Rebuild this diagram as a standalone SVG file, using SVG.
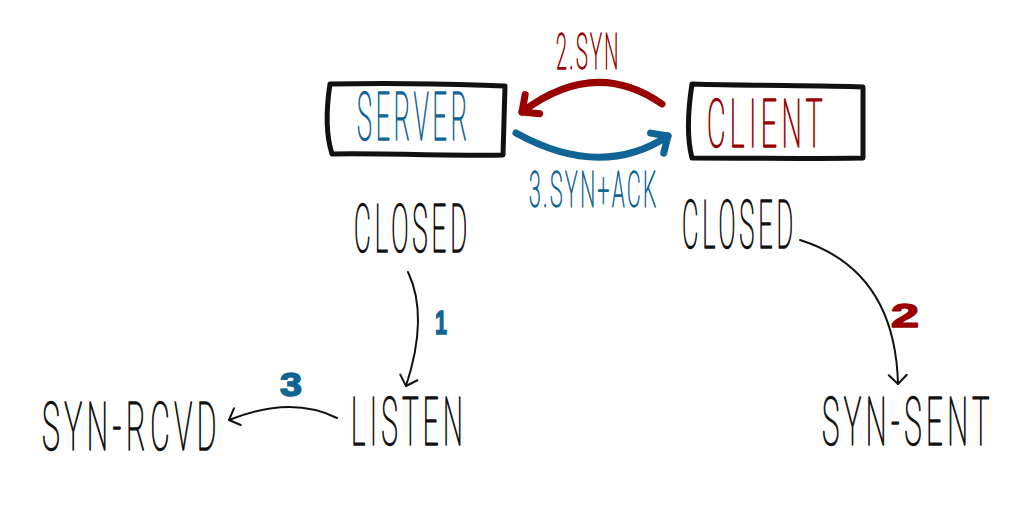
<svg xmlns="http://www.w3.org/2000/svg" width="1036" height="509" viewBox="0 0 1036 509">
<style>
  text { font-family: "Roboto", "Inter", "Liberation Sans", sans-serif; font-weight: 100; stroke-linejoin: round; }
  .state { fill: #111111; stroke: #111111; stroke-width: 1.5; font-size: 66px; letter-spacing: 10px; }
  .lbl { font-size: 50px; stroke-width: 1.3; letter-spacing: 6px; }
  .num { font-family: "Liberation Sans", "Roboto", sans-serif; font-weight: 700; font-size: 34px; stroke-width: 1.5; letter-spacing: 0; }
  .blue { fill: #106496; stroke: #106496; }
  .red { fill: #990000; stroke: #990000; }
  .box { fill: #ffffff; stroke: #111111; stroke-width: 5; stroke-linejoin: round; }
  .thin { fill: none; stroke: #111111; stroke-width: 2; stroke-linecap: round; }
  .thick { fill: none; stroke-width: 7; stroke-linecap: round; }
</style>
<defs>
  <marker id="ahThin" markerUnits="userSpaceOnUse" markerWidth="30" markerHeight="30" viewBox="-15 -15 30 30" refX="0" refY="0" orient="auto">
    <path d="M-9,-9 L0,0 L-9,9" fill="none" stroke="#111111" stroke-width="2" stroke-linecap="round" stroke-linejoin="round"/>
  </marker>
  <marker id="ahRed" markerUnits="userSpaceOnUse" markerWidth="40" markerHeight="40" viewBox="-20 -20 40 40" refX="0" refY="0" orient="auto">
    <path d="M-13,-12 L0,0 L-13,12" fill="none" stroke="#990000" stroke-width="7" stroke-linecap="round" stroke-linejoin="round"/>
  </marker>
  <marker id="ahBlue" markerUnits="userSpaceOnUse" markerWidth="40" markerHeight="40" viewBox="-20 -20 40 40" refX="0" refY="0" orient="auto">
    <path d="M-13,-12 L0,0 L-13,12" fill="none" stroke="#106496" stroke-width="7" stroke-linecap="round" stroke-linejoin="round"/>
  </marker>
</defs>
<rect width="1036" height="509" fill="#ffffff"/>

<g id="connectors">
  <path class="thick" stroke="#990000" d="M662,104 Q595,57 522,112" marker-end="url(#ahRed)"/>
  <path class="thick" stroke="#106496" d="M516,133 Q601,180 668,136" marker-end="url(#ahBlue)"/>
  <path class="thin" d="M408,272 Q429,316 406,386" marker-end="url(#ahThin)"/>
  <path class="thin" d="M337,418 Q291,395 229,420" marker-end="url(#ahThin)"/>
  <path class="thin" d="M800,240 Q895,270 898,384" marker-end="url(#ahThin)"/>
  <text class="lbl red" transform="translate(556,69) scale(0.4,1)" x="0" y="0" textLength="162" lengthAdjust="spacingAndGlyphs">2.SYN</text>
  <text class="lbl blue" transform="translate(529,207) scale(0.4,1)" x="0" y="0" textLength="325" lengthAdjust="spacingAndGlyphs">3.SYN+ACK</text>
  <text class="num blue" x="435" y="334" textLength="12" lengthAdjust="spacingAndGlyphs">1</text>
  <text class="num red" x="891" y="327" textLength="28" lengthAdjust="spacingAndGlyphs">2</text>
  <text class="num blue" x="280" y="396" textLength="22" lengthAdjust="spacingAndGlyphs">3</text>
</g>

<g id="server">
  <path class="box" d="M330,84 C420,82 470,85 505,86 L503,155 C450,156 380,153 332,154 C326,135 326,110 330,84 Z"/>
  <text class="state blue" transform="translate(357,140) scale(0.4,1)" x="0" y="0" textLength="285" lengthAdjust="spacingAndGlyphs">SERVER</text>
</g>
<g id="client">
  <path class="box" d="M692,84 C760,86 820,85 863,87 L863,158 C800,159 740,158 692,158 C686,135 688,110 692,84 Z"/>
  <text class="state red" transform="translate(707,147) scale(0.4,1)" x="0" y="0" textLength="300" lengthAdjust="spacingAndGlyphs">CLIENT</text>
</g>
<g id="server-closed">
  <text class="state" transform="translate(354,252) scale(0.4,1)" x="0" y="0" textLength="292.5" lengthAdjust="spacingAndGlyphs">CLOSED</text>
</g>
<g id="client-closed">
  <text class="state" transform="translate(682,248) scale(0.4,1)" x="0" y="0" textLength="287.5" lengthAdjust="spacingAndGlyphs">CLOSED</text>
</g>
<g id="listen">
  <text class="state" transform="translate(351,445) scale(0.4,1)" x="0" y="0" textLength="290" lengthAdjust="spacingAndGlyphs">LISTEN</text>
</g>
<g id="syn-rcvd">
  <text class="state" transform="translate(42,450) scale(0.4,1)" x="0" y="0" textLength="447.5" lengthAdjust="spacingAndGlyphs">SYN-RCVD</text>
</g>
<g id="syn-sent">
  <text class="state" transform="translate(822,445) scale(0.4,1)" x="0" y="0" textLength="430" lengthAdjust="spacingAndGlyphs">SYN-SENT</text>
</g>
</svg>
